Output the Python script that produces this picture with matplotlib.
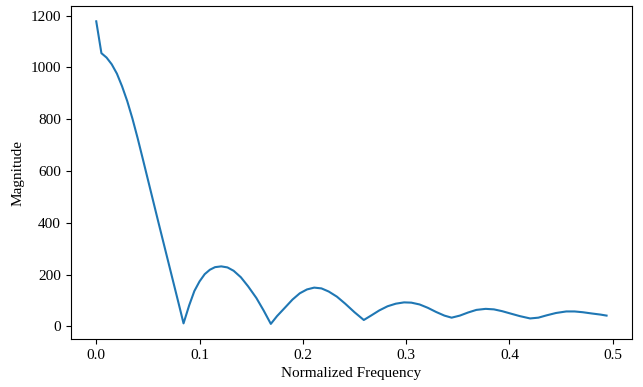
import matplotlib
matplotlib.use("Agg")
import matplotlib.pyplot as plt

plt.rcParams['font.family'] = ['Liberation Serif', 'DejaVu Serif']

freq = [0.000, 0.005, 0.010, 0.015, 0.020, 0.025, 0.030, 0.035, 0.040, 0.045,
        0.050, 0.055, 0.060, 0.065, 0.070, 0.075, 0.080, 0.0845, 0.090, 0.095,
        0.100, 0.105, 0.110, 0.115, 0.121, 0.127, 0.133, 0.140, 0.147, 0.155,
        0.162, 0.169, 0.175, 0.183, 0.190, 0.197, 0.204, 0.211, 0.218, 0.225,
        0.233, 0.241, 0.250, 0.259, 0.266, 0.274, 0.282, 0.290, 0.298, 0.305,
        0.313, 0.321, 0.329, 0.337, 0.344, 0.352, 0.360, 0.368, 0.377, 0.385,
        0.393, 0.401, 0.410, 0.420, 0.428, 0.436, 0.445, 0.455, 0.463, 0.471,
        0.480, 0.488, 0.494]
magnitude = [1178, 1055, 1038, 1012, 976, 927, 870, 803, 728, 648,
             567, 486, 405, 325, 245, 165, 85, 12, 82, 137,
             174, 202, 219, 229, 232, 228, 215, 190, 155, 110,
             62, 10, 40, 74, 104, 128, 143, 150, 147, 135,
             115, 88, 55, 25, 42, 62, 78, 88, 93, 92,
             85, 72, 56, 42, 34, 42, 54, 64, 68, 66,
             59, 50, 40, 31, 34, 43, 52, 58, 58, 55,
             50, 46, 42]

fig = plt.figure(figsize=(6.43, 3.87), dpi=100)
ax = fig.add_axes([0.110, 0.124, 0.873, 0.860])
ax.plot(freq, magnitude, color='#1f77b4', linewidth=1.5)
ax.set_xlabel('Normalized Frequency', fontsize=11)
ax.set_ylabel('Magnitude', fontsize=11)
ax.tick_params(labelsize=11)
fig.savefig('out.png', dpi=100)
